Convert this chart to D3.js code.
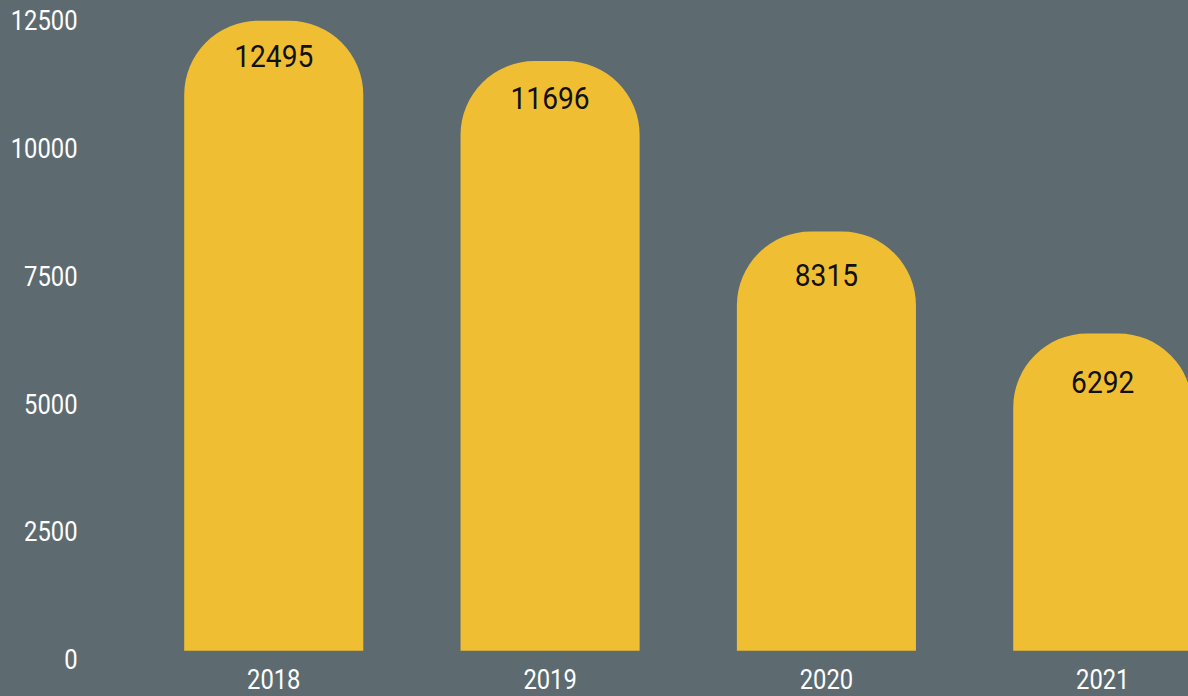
<!DOCTYPE html>
<html>
<head>
<meta charset="utf-8">
<script src="https://cdn.jsdelivr.net/npm/d3@7"></script>
<style>
    html, body { margin: 0; padding: 0; background: #5d6b70; overflow: hidden; }
    svg { display: block; }
    text { font-family: Roboto, sans-serif; }
</style>
</head>
<body>
<div id="chart"></div>
<script>
// chart data
var years = ["2018", "2019", "2020", "2021"]
var counts = [12495, 11696, 8315, 6292]
var yTicks = [0, 2500, 5000, 7500, 10000, 12500]

var width = 1188
var height = 696
var squeeze = 0.88   // the source font is a condensed one

var svg = d3.select("#chart")
    .append("svg")
    .attr("width", width)
    .attr("height", height)

svg.append("rect")
    .attr("width", width)
    .attr("height", height)
    .attr("fill", "#5d6b70")

var x = d3.scaleBand()
    .domain(years)
    .range([140, 1236.5])
    .paddingInner(0.352)
    .paddingOuter(0.16)

// bars and tick labels do not sit on exactly the same spacing in the original
var y = d3.scaleLinear().domain([0, 12500]).range([650.7, 20.5])
var yLabel = d3.scaleLinear().domain([0, 12500]).range([659, 20.3])
var valueY = d3.scaleLinear().domain([0, 12500]).range([711.4, 55.5])

var bars = years.map(function(yr, i) { return { year: yr, value: counts[i] } })

// bar with a rounded top
function barPath(d) {
    var x0 = x(d.year)
    var w = x.bandwidth()
    var top = y(d.value)
    var bottom = y(0)
    var r = 74
    return "M" + x0 + "," + bottom +
        "V" + (top + r) +
        "A" + r + "," + r + " 0 0 1 " + (x0 + r) + "," + top +
        "H" + (x0 + w - r) +
        "A" + r + "," + r + " 0 0 1 " + (x0 + w) + "," + (top + r) +
        "V" + bottom + "Z"
}

svg.selectAll(".bar")
    .data(bars)
    .enter()
    .append("path")
    .attr("class", "bar")
    .attr("d", barPath)
    .attr("fill", "#f0be32")

svg.selectAll(".value")
    .data(bars)
    .enter()
    .append("text")
    .attr("class", "value")
    .attr("transform", function(d) {
        return "translate(" + (x(d.year) + x.bandwidth() / 2) + "," + valueY(d.value) + ") scale(" + squeeze + ",1)"
    })
    .attr("dy", "0.355em")
    .attr("text-anchor", "middle")
    .attr("fill", "#111111")
    .style("font-size", "32px")
    .text(function(d) { return d.value })

// y axis
var yAxis = svg.append("g")
    .attr("transform", "translate(77.5,0)")
    .call(d3.axisLeft(yLabel).tickValues(yTicks).tickSize(0).tickPadding(0).tickFormat(d3.format("d")))

yAxis.select(".domain").remove()
yAxis.selectAll("text")
    .attr("x", 0)
    .attr("dy", "0.355em")
    .attr("transform", "scale(" + squeeze + ",1)")
    .attr("fill", "#ffffff")
    .style("font-size", "27px")
    .style("font-family", "Roboto, sans-serif")

// x axis
var xAxis = svg.append("g")
    .attr("transform", "translate(0,679)")
    .call(d3.axisBottom(x).tickSize(0).tickPadding(0))

xAxis.select(".domain").remove()
xAxis.selectAll("text")
    .attr("y", 0)
    .attr("dy", "0.355em")
    .attr("transform", "scale(" + squeeze + ",1)")
    .attr("fill", "#ffffff")
    .style("font-size", "27px")
    .style("font-family", "Roboto, sans-serif")
</script>
</body>
</html>
